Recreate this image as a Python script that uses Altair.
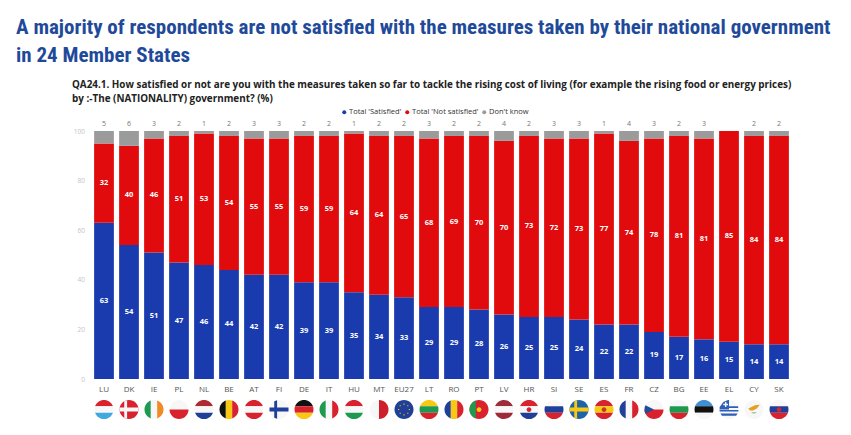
import altair as alt
import pandas as pd

countries = ["LU","DK","IE","PL","NL","BE","AT","FI","DE","IT","HU","MT","EU27","LT","RO","PT","LV","HR","SI","SE","ES","FR","CZ","BG","EE","EL","CY","SK"]
satisfied = [63,54,51,47,46,44,42,42,39,39,35,34,33,29,29,28,26,25,25,24,22,22,19,17,16,15,14,14]
not_satisfied = [32,40,46,51,53,54,55,55,59,59,64,64,65,68,69,70,70,73,72,73,77,74,78,81,81,85,84,84]
dont_know = [5,6,3,2,1,2,3,3,2,2,1,2,2,3,2,2,4,2,3,3,1,4,3,2,3,0,2,2]
series = ["Total 'Satisfied'", "Total 'Not satisfied'", "Don't know"]
series_colors = ["#1A3BAE", "#E10A0C", "#9B9B9B"]

title_lines = ["A majority of respondents are not satisfied with the measures taken by their national government", "in 24 Member States"]
question_lines = ["QA24.1. How satisfied or not are you with the measures taken so far to tackle the rising cost of living (for example the rising food or energy prices)", "by :-The (NATIONALITY) government? (%)"]

R, G, B, W, K, Y = "#D8232F", "#1E9A50", "#1F3F99", "#F7F7F7", "#111111", "#F7C912"
S = {
 "full": "M-1 0A1 1 0 1 1 1 0A1 1 0 1 1 -1 0Z",
 "t3": "M-.943 -.333A1 1 0 0 1 .943 -.333Z",
 "m3": "M-.943 -.333A1 1 0 0 0 -.943 .333L.943 .333A1 1 0 0 0 .943 -.333Z",
 "b3": "M-.943 .333A1 1 0 0 0 .943 .333Z",
 "l3": "M-.333 -.943A1 1 0 0 0 -.333 .943Z",
 "c3": "M-.333 -.943A1 1 0 0 1 .333 -.943L.333 .943A1 1 0 0 1 -.333 .943Z",
 "r3": "M.333 -.943A1 1 0 0 1 .333 .943Z",
 "th": "M-1 0A1 1 0 0 1 1 0Z",
 "bh": "M-1 0A1 1 0 0 0 1 0Z",
 "lh": "M0 -1A1 1 0 0 0 0 1Z",
 "rh": "M0 -1A1 1 0 0 1 0 1Z",
 "cross": "M-1 -.2L-.5 -.2L-.5 -.87L-.2 -.98L-.2 -.2L1 -.2L1 .2L-.2 .2L-.2 .98L-.5 .87L-.5 .2L-1 .2Z",
 "tri": "M-.9 -.45L0 0L-.9 .45A1 1 0 0 1 -.9 -.45Z",
 "dot": "M-.25 0A.25 .25 0 1 1 .25 0A.25 .25 0 1 1 -.25 0Z",
 "ring": "M-.62 -.06h.12v.12h-.12zM.5 -.06h.12v.12h-.12zM-.06 -.62h.12v.12h-.12zM-.06 .5h.12v.12h-.12zM-.46 -.46h.12v.12h-.12zM.34 -.46h.12v.12h-.12zM-.46 .34h.12v.12h-.12zM.34 .34h.12v.12h-.12z",
 "stripes": "M-.95 -.33L.95 -.33L.98 -.15L-.98 -.15ZM-1 .05L1 .05L.98 .22L-.98 .22ZM-.9 .42L.9 .42L.75 .65L-.75 .65Z",
 "canton": "M-.95 -.3L-.6 -.8L-.1 -1L0 -1L0 0L-1 0Z",
 "gcross": "M-.6 -.6h.18v-.2h.14v.2h.18v.14h-.18v.2h-.14v-.2h-.18z",
 "blob": "M-.6 -.1L.1 -.45L.6 -.5L.3 -.1L-.1 .1L-.4 .1Z",
 "leaf": "M-.3 .3L.3 .3L.1 .42L-.1 .42Z",
}
flag_parts = {
 "LU": [("t3",R),("m3",W),("b3","#3FA9E0")], "DK": [("full",R),("cross",W)], "IE": [("l3",G),("c3",W),("r3","#F08A24")],
 "PL": [("th",W),("bh",R)], "NL": [("t3","#AE2A32"),("m3",W),("b3",B)], "BE": [("l3",K),("c3",Y),("r3",R)],
 "AT": [("t3",R),("m3",W),("b3",R)], "FI": [("full",W),("cross",B)], "DE": [("t3",K),("m3",R),("b3",Y)],
 "IT": [("l3",G),("c3",W),("r3",R)], "HU": [("t3",R),("m3",W),("b3",G)], "MT": [("lh",W),("rh","#CF1E2B")],
 "EU27": [("full",B),("ring",Y)], "LT": [("t3",Y),("m3",G),("b3",R)], "RO": [("l3",B),("c3",Y),("r3",R)],
 "PT": [("full",R),("l3",G),("dot",Y)], "LV": [("t3","#9E2B3A"),("m3",W),("b3","#9E2B3A")], "HR": [("t3",R),("m3",W),("b3",B),("dot",R)],
 "SI": [("t3",W),("m3",B),("b3",R)], "SE": [("full","#1F62A8"),("cross",Y)], "ES": [("t3",R),("m3",Y),("b3",R),("dot","#C0392B")],
 "FR": [("l3",B),("c3",W),("r3",R)], "CZ": [("th",W),("bh",R),("tri","#1F4E9C")], "BG": [("t3",W),("m3",G),("b3",R)],
 "EE": [("t3","#3F8FD2"),("m3",K),("b3",W)], "EL": [("full",W),("stripes","#2D5FB8"),("canton","#2D5FB8"),("gcross",W)],
 "CY": [("full",W),("blob","#E5A020"),("leaf","#8FB98F")], "SK": [("t3",W),("m3",B),("b3",R),("dot",R)],
}

rows = []
for i, c in enumerate(countries):
    base = 0
    for j, v in enumerate((satisfied[i], not_satisfied[i], dont_know[i])):
        rows.append({"country": c, "series": series[j], "value": v, "idx": j, "mid": base + v / 2})
        base += v
df = pd.DataFrame(rows)

flags = pd.DataFrame([
    {"country": c, "part": k, "path": S[p], "color": col}
    for c, parts in flag_parts.items() for k, (p, col) in enumerate(parts)
])

FONT = "Open Sans"
xscale = alt.Scale(domain=countries, paddingInner=0.21, paddingOuter=0.105)
x = alt.X("country:N", sort=countries, scale=xscale, title=None,
          axis=alt.Axis(domain=False, ticks=False, labelAngle=0, labelFont=FONT, labelFontSize=8,
                        labelColor="#555555", labelPadding=6))
yscale = alt.Scale(domain=[0, 100], nice=False)

bars = alt.Chart(df).mark_bar().encode(
    x=x,
    y=alt.Y("value:Q", stack="zero", scale=yscale, title=None,
            axis=alt.Axis(values=[0, 20, 40, 60, 80, 100], grid=False, domain=False, ticks=False,
                          labelFont=FONT, labelFontSize=6.5, labelColor="#C4C4C4", labelPadding=7)),
    color=alt.Color("series:N", sort=series, scale=alt.Scale(domain=series, range=series_colors),
                    legend=alt.Legend(title=None, orient="none", legendX=249, legendY=-23, direction="horizontal",
                                      symbolType="circle", symbolSize=16, labelFont=FONT, labelFontSize=7.5,
                                      labelColor="#333333", columnPadding=2, labelOffset=1, symbolOffset=0)),
    order=alt.Order("idx:Q"),
)

values = alt.Chart(df[df.idx < 2]).mark_text(color="white", font=FONT, fontSize=7.5, fontWeight="bold").encode(
    x=alt.X("country:N", sort=countries, scale=xscale, title=None),
    y=alt.Y("mid:Q", scale=yscale, title=None),
    text="value:Q",
)

dk = alt.Chart(df[(df.idx == 2) & (df.value > 0)]).mark_text(color="#777777", font=FONT, fontSize=7, dy=-7).encode(
    x=alt.X("country:N", sort=countries, scale=xscale, title=None),
    y=alt.datum(100, scale=yscale),
    text="value:Q",
)

flag_layers = [
    alt.Chart(flags[flags.part == k]).mark_point(filled=True, size=361, opacity=1, strokeWidth=0).encode(
        x=alt.X("country:N", sort=countries, scale=xscale, title=None),
        y=alt.value(278.5),
        shape=alt.Shape("path:N", scale=None),
        fill=alt.Fill("color:N", scale=None),
    )
    for k in sorted(flags.part.unique())
]

def txt(lines, xpos, ys, **kw):
    return [alt.Chart(pd.DataFrame({"t": [l]})).mark_text(align="left", baseline="middle", **kw).encode(
        x=alt.value(xpos), y=alt.value(yy), text="t:N") for l, yy in zip(lines, ys)]

titles = txt(title_lines, -75.5, [-103, -75], font="Roboto Condensed, Roboto", fontSize=21, fontWeight="bold", color="#1F4A9A")
question = txt(question_lines, -19.5, [-46.5, -32.5], font=FONT, fontSize=9.9, fontWeight="bold", color="#222222")

chart = alt.layer(bars, values, dk, *flag_layers, *titles, *question).resolve_scale(
    shape="independent", fill="independent"
).properties(
    width=700, height=248, background="white",
    autosize=alt.AutoSizeParams(type="none"),
    padding={"left": 83.5, "top": 123, "right": 50, "bottom": 48},
).configure_view(stroke=None, clip=False)

chart.save("out.html", embed_options={"renderer": "svg", "actions": False})
